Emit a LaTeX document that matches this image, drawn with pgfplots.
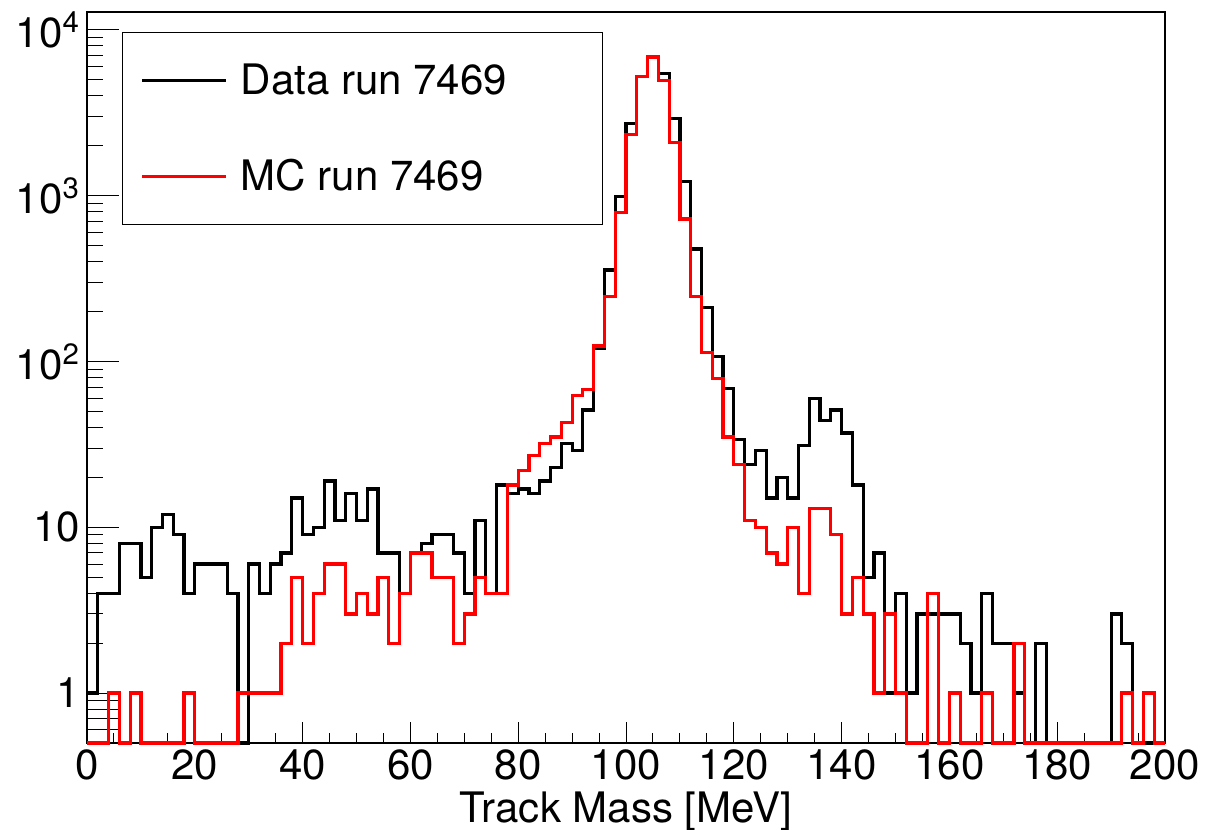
\documentclass[border=0pt]{standalone}
\usepackage{fontspec}
\setmainfont{TeX Gyre Heros}
\usepackage{pgfplots}
\usepackage{pgfplotstable}
\pgfplotsset{compat=1.18}

% bin left edges (2 MeV bins); empty bins set to the axis floor 0.5
\pgfplotstableread{
x data mc
0 1 0.5
2 4 0.5
4 4 1
6 8 0.5
8 8 1
10 5 0.5
12 10 0.5
14 12 0.5
16 9 0.5
18 4 1
20 6 0.5
22 6 0.5
24 6 0.5
26 4 0.5
28 0.5 1
30 6 1
32 4 1
34 6 1
36 7 2
38 15 5
40 9 2
42 10 4
44 19 6
46 11 6
48 16 3
50 11 4
52 17 3
54 7 5
56 7 2
58 4 4
60 7 7
62 8 7
64 9 5
66 9 5
68 7 2
70 4 3
72 11 5
74 4 4
76 18 4
78 16 18
80 17 22
82 16 27
84 19 32
86 23 35
88 32 43
90 29 62
92 51 68
94 120 124
96 356 246
98 984 788
100 2723 2337
102 5250 5250
104 6856 6856
106 5450 4965
108 2903 2080
110 1211 722
112 476 246
114 212 113
116 107 79
118 69 35
120 34 24
122 24 11
124 29 10
126 15 7
128 20 6
130 15 10
132 31 4
134 60 13
136 44 13
138 51 9
140 37 3
142 18 5
144 5 3
146 7 1
148 1 3
150 4 1
152 1 0.5
154 3 0.5
156 3 4
158 3 0.5
160 3 1
162 2 0.5
164 1 0.5
166 4 1
168 2 0.5
170 2 0.5
172 1 2
174 0.5 0.5
176 2 0.5
178 0.5 0.5
180 0.5 0.5
182 0.5 0.5
184 0.5 0.5
186 0.5 0.5
188 0.5 0.5
190 3 0.5
192 2 1
194 0.5 0.5
196 0.5 1
198 0.5 0.5
200 0.5 0.5
}\hist

\begin{document}
\begin{tikzpicture}
\begin{axis}[
  ymode=log,
  scale only axis,
  width=539pt, height=365.5pt,
  xmin=0, xmax=200, ymin=0.5, ymax=12800,
  axis line style={line width=1pt},
  tick pos=left, tick align=inside,
  xtick={0,20,...,200}, minor x tick num=3,
  ytick={1,10,100,1000,10000},
  yticklabels={1,10,10\textsuperscript{2},10\textsuperscript{3},10\textsuperscript{4}},
  extra y ticks={0.6,0.7,0.8,0.9}, extra y tick labels={},
  major tick length=10.5pt, minor tick length=5pt,
  xtick style={line width=0.5pt, black},
  ytick style={line width=0.5pt, black, /pgfplots/major tick length=16pt, /pgfplots/minor tick length=8pt},
  extra y tick style={/pgfplots/major tick length=8pt},
  tick label style={font=\fontsize{21}{25}\selectfont},
  /pgf/number format/assume math mode=true,
  xlabel={Track Mass [MeV]},
  xlabel style={font=\fontsize{21}{25}\selectfont, at={(axis description cs:0.5,0)}, anchor=base, yshift=-39.5pt},
  clip=false,
  legend style={at={(axis description cs:0.0325,0.9726)}, anchor=north west,
    draw=black, line width=0.5pt, font=\fontsize{21}{25}\selectfont,
    inner xsep=9pt, inner ysep=13.5pt, row sep=26.9pt,
    /tikz/every odd column/.append style={column sep=4.5pt}},
  legend cell align=left,
  legend image code/.code={\draw[#1, line width=1.6pt] (0pt,0pt) -- (42pt,0pt);},
]
\addplot[black, line width=1.6pt, const plot mark left, no marks] table[x=x, y=data] {\hist};
\addlegendentry{\makebox[170pt][l]{Data run 7469}}
\addplot[red, line width=1.6pt, const plot mark left, no marks] table[x=x, y=mc] {\hist};
\addlegendentry{\makebox[170pt][l]{MC run 7469}}
\end{axis}
\pgfresetboundingbox
\useasboundingbox ([shift={(-43.5pt,-43pt)}]current axis.south west) rectangle ([shift={(21pt,6pt)}]current axis.north east);
\end{tikzpicture}
\end{document}
